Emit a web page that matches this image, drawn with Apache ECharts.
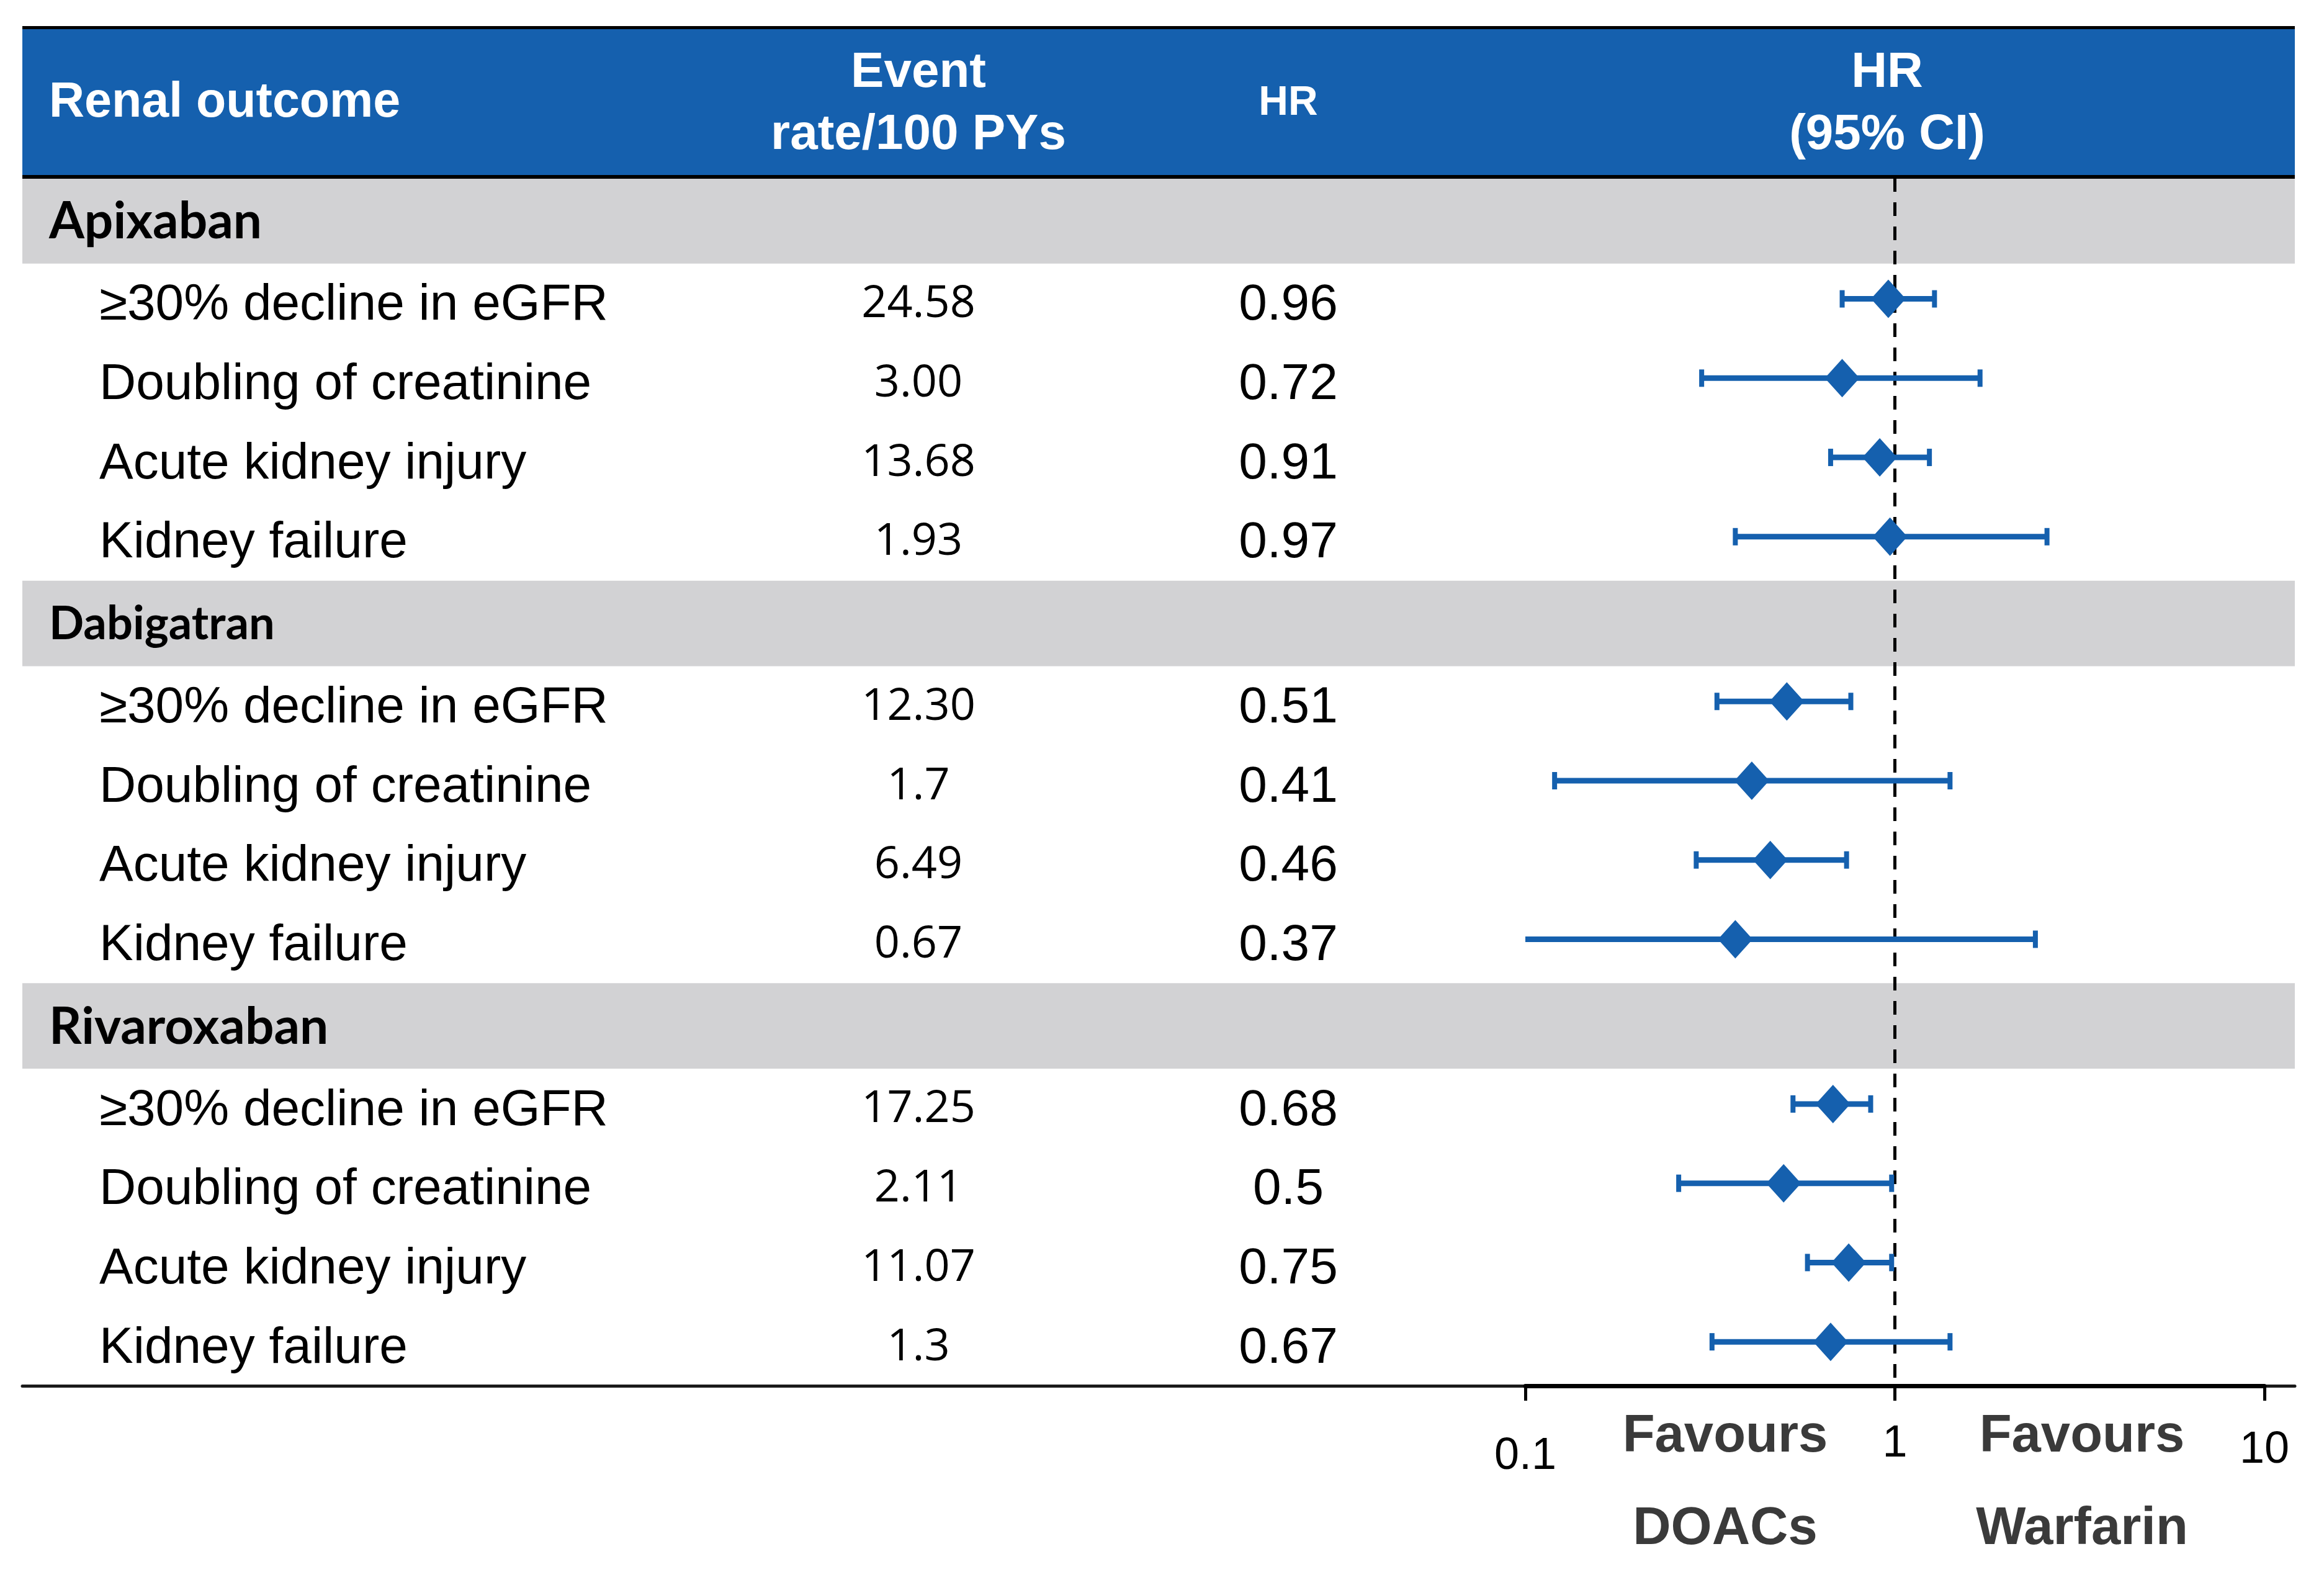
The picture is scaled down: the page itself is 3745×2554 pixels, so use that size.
<!DOCTYPE html>
<html><head><meta charset="utf-8">
<script src="https://cdn.jsdelivr.net/npm/echarts@6/dist/echarts.min.js"></script>
<style>html,body{margin:0;padding:0;background:#fff}#c{width:3745px;height:2554px}</style>
</head><body><div id="c"></div>
<script>
// ---------------- data ----------------
const groups = ['Apixaban', 'Dabigatran', 'Rivaroxaban'];
const outcomes = ['≥30% decline in eGFR', 'Doubling of creatinine', 'Acute kidney injury', 'Kidney failure'];
const eventRates = [
  ['24.58', '3.00', '13.68', '1.93'],
  ['12.30', '1.7', '6.49', '0.67'],
  ['17.25', '2.11', '11.07', '1.3']
];
const hrValues = [
  [0.96, 0.72, 0.91, 0.97],
  [0.51, 0.41, 0.46, 0.37],
  [0.68, 0.5, 0.75, 0.67]
];
const ciLower = [
  [0.72, 0.30, 0.67, 0.37],
  [0.33, 0.12, 0.29, 0.09],
  [0.53, 0.26, 0.58, 0.32]
];
const ciUpper = [
  [1.28, 1.70, 1.24, 2.58],
  [0.76, 1.41, 0.74, 2.40],
  [0.86, 0.98, 0.98, 1.41]
];
const tickValues = [0.1, 1, 10];
const tickLabels = ['0.1', '1', '10'];
const headerTexts = { outcome: 'Renal outcome', rate: ['Event', 'rate/100 PYs'], hr: 'HR', ci: ['HR', '(95% CI)'] };
const favourTexts = [['Favours', 'DOACs'], ['Favours', 'Warfarin']];
const refValue = 1;

// ---------------- layout ----------------
const SANS = 'Arial, "Liberation Sans", Helvetica, sans-serif';
const L = {
  left: 36, right: 3698, top: 287, bottom: 2233,
  groupH: 138, itemH: 128,
  forestLeft: 2458, forestRight: 3649,
  xGroup: 79, xItem: 160, xRate: 1480, xHR: 2076, xCI: 3041,
  xFavL: 2780, xFavR: 3355
};
const tableW = L.right - L.left;
const rows = [];
let acc = 0;
groups.forEach((g, gi) => {
  rows.push({ type: 'group', gi: gi, y0: acc, y1: acc + L.groupH });
  acc += L.groupH;
  outcomes.forEach((o, oi) => {
    rows.push({ type: 'item', gi: gi, oi: oi, y0: acc, y1: acc + L.itemH });
    acc += L.itemH;
  });
});
const totalH = acc;

const BLUE = '#1560AE';
const GREY = '#D2D2D4';
const axMin = tickValues[0], axMax = tickValues[tickValues.length - 1];

const bandData = rows.filter(r => r.type === 'group').map(r => [r.y0, r.y1, r.gi]);
const textData = rows.map((r, i) => [i, (r.y0 + r.y1) / 2]);
const forestData = rows.filter(r => r.type === 'item').map(r => [
  ciLower[r.gi][r.oi], ciUpper[r.gi][r.oi], hrValues[r.gi][r.oi], (r.y0 + r.y1) / 2
]);

const chart = echarts.init(document.getElementById('c'), null, { renderer: 'canvas' });

const option = {
  backgroundColor: '#fff',
  animation: false,
  grid: [
    { left: L.left, width: tableW, top: L.top, height: L.bottom - L.top, containLabel: false },
    { left: L.forestLeft, width: L.forestRight - L.forestLeft, top: L.top, height: L.bottom - L.top, containLabel: false }
  ],
  xAxis: [
    {
      gridIndex: 0, type: 'value', min: 0, max: tableW, position: 'bottom',
      axisLine: { show: true, onZero: false, lineStyle: { color: '#1a1a1a', width: 5 } },
      axisTick: { show: false }, axisLabel: { show: false }, splitLine: { show: false }
    },
    {
      gridIndex: 1, type: 'log', logBase: 10, min: axMin, max: axMax, position: 'bottom',
      axisLine: { show: true, onZero: false, lineStyle: { color: '#000', width: 7 } },
      axisTick: { show: true, length: 24, lineStyle: { color: '#000', width: 5 } },
      splitLine: { show: false },
      axisLabel: {
        show: true, margin: 58, color: '#000',
        fontFamily: SANS, fontSize: 72,
        formatter: function (v) {
          let best = 0;
          tickValues.forEach((t, i) => { if (Math.abs(Math.log10(t) - Math.log10(v)) < Math.abs(Math.log10(tickValues[best]) - Math.log10(v))) best = i; });
          const key = ['lo', 'mid', 'hi'][best];
          return '{' + key + '|' + tickLabels[best] + '}';
        },
        rich: {
          lo: { fontFamily: SANS, fontSize: 72, color: '#000', padding: [20, 0, 0, 0] },
          mid: { fontFamily: SANS, fontSize: 72, color: '#000' },
          hi: { fontFamily: SANS, fontSize: 72, color: '#000', padding: [10, 0, 0, 0] }
        }
      }
    }
  ],
  yAxis: [
    { gridIndex: 0, type: 'value', min: 0, max: totalH, inverse: true, show: false },
    { gridIndex: 1, type: 'value', min: 0, max: totalH, inverse: true, show: false }
  ],
  series: [
    {
      type: 'custom', xAxisIndex: 0, yAxisIndex: 0, z: 1, silent: true, clip: false,
      data: bandData,
      renderItem: function (params, api) {
        const p0 = api.coord([0, api.value(0)]);
        const p1 = api.coord([tableW, api.value(1)]);
        return { type: 'rect', shape: { x: p0[0], y: p0[1], width: p1[0] - p0[0], height: p1[1] - p0[1] }, style: { fill: GREY } };
      }
    },
    {
      type: 'custom', xAxisIndex: 0, yAxisIndex: 0, z: 2, silent: true, clip: false,
      data: textData,
      renderItem: function (params, api) {
        const r = rows[api.value(0)];
        const yc = api.value(1);
        const children = [];
        if (r.type === 'group') {
          const p = api.coord([L.xGroup - L.left, yc]);
          const small = r.gi === 1;
          children.push({ type: 'text', style: { text: groups[r.gi], x: p[0], y: p[1] + 2, fill: '#000',
            font: 'bold ' + (small ? 74 : 82) + 'px Lato', align: 'left', verticalAlign: 'middle' } });
        } else {
          const pl = api.coord([L.xItem - L.left, yc]);
          children.push({ type: 'text', style: { text: outcomes[r.oi], x: pl[0], y: pl[1] + 4, fill: '#000',
            font: '82px ' + SANS, align: 'left', verticalAlign: 'middle' } });
          const pr = api.coord([L.xRate - L.left, yc]);
          children.push({ type: 'text', style: { text: eventRates[r.gi][r.oi], x: pr[0], y: pr[1] + 2, fill: '#000',
            font: '72px "Open Sans"', align: 'center', verticalAlign: 'middle' } });
          const ph = api.coord([L.xHR - L.left, yc]);
          children.push({ type: 'text', style: { text: String(hrValues[r.gi][r.oi]), x: ph[0], y: ph[1] + 4, fill: '#000',
            font: '82px ' + SANS, align: 'center', verticalAlign: 'middle' } });
        }
        return { type: 'group', children: children };
      }
    },
    {
      type: 'line', xAxisIndex: 1, yAxisIndex: 1, z: 3, silent: true, symbol: 'none',
      data: [[refValue, 0], [refValue, totalH]],
      lineStyle: { color: '#000', width: 5, type: [22, 17] }
    },
    {
      type: 'custom', xAxisIndex: 1, yAxisIndex: 1, z: 4, silent: true, clip: false,
      data: forestData,
      renderItem: function (params, api) {
        const lo = api.value(0), hi = api.value(1), hr = api.value(2), yc = api.value(3);
        const loClamped = Math.max(lo, axMin);
        const pa = api.coord([loClamped, yc]);
        const pb = api.coord([Math.min(hi, axMax), yc]);
        const pm = api.coord([hr, yc]);
        const y = pm[1] - 7;
        const children = [
          { type: 'line', shape: { x1: pa[0], y1: y, x2: pb[0], y2: y }, style: { stroke: BLUE, lineWidth: 9 } }
        ];
        if (lo >= axMin) children.push({ type: 'line', shape: { x1: pa[0], y1: y - 14, x2: pa[0], y2: y + 14 }, style: { stroke: BLUE, lineWidth: 8 } });
        if (hi <= axMax) children.push({ type: 'line', shape: { x1: pb[0], y1: y - 14, x2: pb[0], y2: y + 14 }, style: { stroke: BLUE, lineWidth: 8 } });
        children.push({ type: 'polygon', shape: { points: [[pm[0], y - 31], [pm[0] + 28, y], [pm[0], y + 31], [pm[0] - 28, y]] }, style: { fill: BLUE } });
        return { type: 'group', children: children };
      }
    }
  ],
  graphic: [
    { type: 'rect', z: 10, shape: { x: L.left, y: 42, width: tableW, height: 246 }, style: { fill: '#000' } },
    { type: 'rect', z: 11, shape: { x: L.left, y: 47, width: tableW, height: 235 }, style: { fill: BLUE } },
    { type: 'text', z: 12, style: { text: headerTexts.outcome, x: L.xGroup, y: 166, fill: '#fff', font: 'bold 79px ' + SANS, align: 'left', verticalAlign: 'middle' } },
    { type: 'text', z: 12, style: { text: headerTexts.rate[0], x: L.xRate, y: 118, fill: '#fff', font: 'bold 80px ' + SANS, align: 'center', verticalAlign: 'middle' } },
    { type: 'text', z: 12, style: { text: headerTexts.rate[1], x: L.xRate, y: 218, fill: '#fff', font: 'bold 80px ' + SANS, align: 'center', verticalAlign: 'middle' } },
    { type: 'text', z: 12, style: { text: headerTexts.hr, x: L.xHR, y: 167, fill: '#fff', font: 'bold 66px ' + SANS, align: 'center', verticalAlign: 'middle' } },
    { type: 'text', z: 12, style: { text: headerTexts.ci[0], x: L.xCI, y: 118, fill: '#fff', font: 'bold 80px ' + SANS, align: 'center', verticalAlign: 'middle' } },
    { type: 'text', z: 12, style: { text: headerTexts.ci[1], x: L.xCI, y: 218, fill: '#fff', font: 'bold 80px ' + SANS, align: 'center', verticalAlign: 'middle' } },
    { type: 'text', z: 12, style: { text: favourTexts[0][0], x: L.xFavL, y: 2316, fill: '#3a3a3a', font: 'bold 85px ' + SANS, align: 'center', verticalAlign: 'middle' } },
    { type: 'text', z: 12, style: { text: favourTexts[0][1], x: L.xFavL, y: 2465, fill: '#3a3a3a', font: 'bold 85px ' + SANS, align: 'center', verticalAlign: 'middle' } },
    { type: 'text', z: 12, style: { text: favourTexts[1][0], x: L.xFavR, y: 2316, fill: '#3a3a3a', font: 'bold 85px ' + SANS, align: 'center', verticalAlign: 'middle' } },
    { type: 'text', z: 12, style: { text: favourTexts[1][1], x: L.xFavR, y: 2465, fill: '#3a3a3a', font: 'bold 85px ' + SANS, align: 'center', verticalAlign: 'middle' } }
  ]
};
chart.setOption(option);
</script>
</body></html>
